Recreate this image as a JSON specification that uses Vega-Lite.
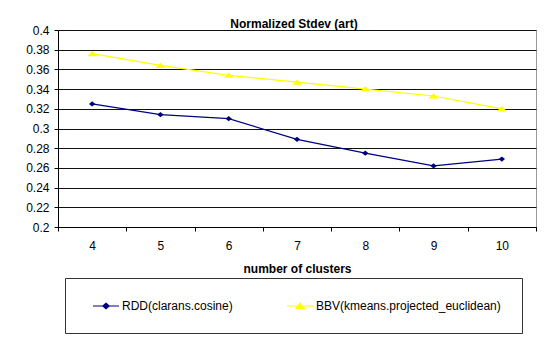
{
  "$schema": "https://vega.github.io/schema/vega-lite/v6.json",
  "width": 478,
  "height": 197,
  "autosize": {"type": "none"},
  "padding": {"left": 58, "top": 30, "right": 16, "bottom": 115},
  "background": "white",
  "title": {
    "text": "Normalized Stdev (art)",
    "font": "Liberation Sans",
    "fontSize": 12,
    "fontWeight": "bold",
    "color": "black",
    "anchor": "middle",
    "offset": -7,
    "dx": -3
  },
  "config": {
    "view": {"stroke": "#9a9a9a", "strokeWidth": 1},
    "axis": {
      "labelFont": "Liberation Sans",
      "labelFontSize": 12,
      "labelColor": "black",
      "titleFont": "Liberation Sans",
      "titleFontSize": 12,
      "titleFontWeight": "bold",
      "titleColor": "black",
      "domainColor": "black",
      "domainWidth": 1,
      "tickColor": "black",
      "tickWidth": 1,
      "tickSize": 4
    }
  },
  "data": {
    "values": [
      {"k": 4, "series": "RDD(clarans.cosine)", "value": 0.325},
      {"k": 5, "series": "RDD(clarans.cosine)", "value": 0.314},
      {"k": 6, "series": "RDD(clarans.cosine)", "value": 0.310},
      {"k": 7, "series": "RDD(clarans.cosine)", "value": 0.289},
      {"k": 8, "series": "RDD(clarans.cosine)", "value": 0.275},
      {"k": 9, "series": "RDD(clarans.cosine)", "value": 0.262},
      {"k": 10, "series": "RDD(clarans.cosine)", "value": 0.269},
      {"k": 4, "series": "BBV(kmeans.projected_euclidean)", "value": 0.376},
      {"k": 5, "series": "BBV(kmeans.projected_euclidean)", "value": 0.364},
      {"k": 6, "series": "BBV(kmeans.projected_euclidean)", "value": 0.354},
      {"k": 7, "series": "BBV(kmeans.projected_euclidean)", "value": 0.347},
      {"k": 8, "series": "BBV(kmeans.projected_euclidean)", "value": 0.340},
      {"k": 9, "series": "BBV(kmeans.projected_euclidean)", "value": 0.333},
      {"k": 10, "series": "BBV(kmeans.projected_euclidean)", "value": 0.320}
    ]
  },
  "encoding": {
    "x": {
      "field": "k",
      "type": "ordinal",
      "scale": {"type": "band", "paddingInner": 0, "paddingOuter": 0},
      "axis": {
        "title": "number of clusters",
        "labelAngle": 0,
        "tickBand": "extent",
        "grid": false,
        "labelPadding": 9,
        "titlePadding": 12
      }
    },
    "y": {
      "field": "value",
      "type": "quantitative",
      "scale": {"domain": [0.2, 0.4], "nice": false, "zero": false},
      "axis": {
        "title": null,
        "values": [0.2, 0.22, 0.24, 0.26, 0.28, 0.3, 0.32, 0.34, 0.36, 0.38, 0.4],
        "format": ".2~f",
        "labelPadding": 5,
        "grid": true,
        "gridColor": "#111111",
        "gridWidth": 1
      }
    },
    "color": {
      "field": "series",
      "type": "nominal",
      "scale": {
        "domain": ["RDD(clarans.cosine)", "BBV(kmeans.projected_euclidean)"],
        "range": ["#000080", "#ffff00"]
      },
      "legend": {
        "title": null,
        "orient": "none",
        "legendX": 7,
        "legendY": 248,
        "direction": "horizontal",
        "fillColor": "white",
        "strokeColor": "#333333",
        "padding": 21,
        "columnPadding": 47,
        "symbolSize": 144,
        "labelOffset": 22,
        "labelLimit": 400,
        "labelFont": "Liberation Sans",
        "labelFontSize": 12,
        "labelColor": "black",
        "encode": {
          "symbols": {
            "update": {
              "shape": {"signal": "datum.value === 'RDD(clarans.cosine)' ? 'M0,0H4.333M2.167,-0.45L2.7,0L2.167,0.45L1.633,0Z' : 'M0,0H4.333M2.167,-0.45L2.834,0.4L1.5,0.4Z'"},
              "fill": {"signal": "scale('color', datum.value)"},
              "stroke": {"signal": "scale('color', datum.value)"},
              "strokeWidth": {"value": 1.2},
              "opacity": {"value": 1}
            }
          }
        }
      }
    }
  },
  "layer": [
    {"mark": {"type": "line", "strokeWidth": 1.2}},
    {
      "transform": [{"filter": "datum.series === 'RDD(clarans.cosine)'"}],
      "mark": {
        "type": "point",
        "filled": true,
        "opacity": 1,
        "shape": "M0,-0.84L1,0L0,0.84L-1,0Z",
        "size": 40
      }
    },
    {
      "transform": [{"filter": "datum.series === 'BBV(kmeans.projected_euclidean)'"}],
      "mark": {
        "type": "point",
        "filled": true,
        "opacity": 1,
        "shape": "M0,-0.55L1,0.5L-1,0.5Z",
        "size": 100
      }
    }
  ]
}
